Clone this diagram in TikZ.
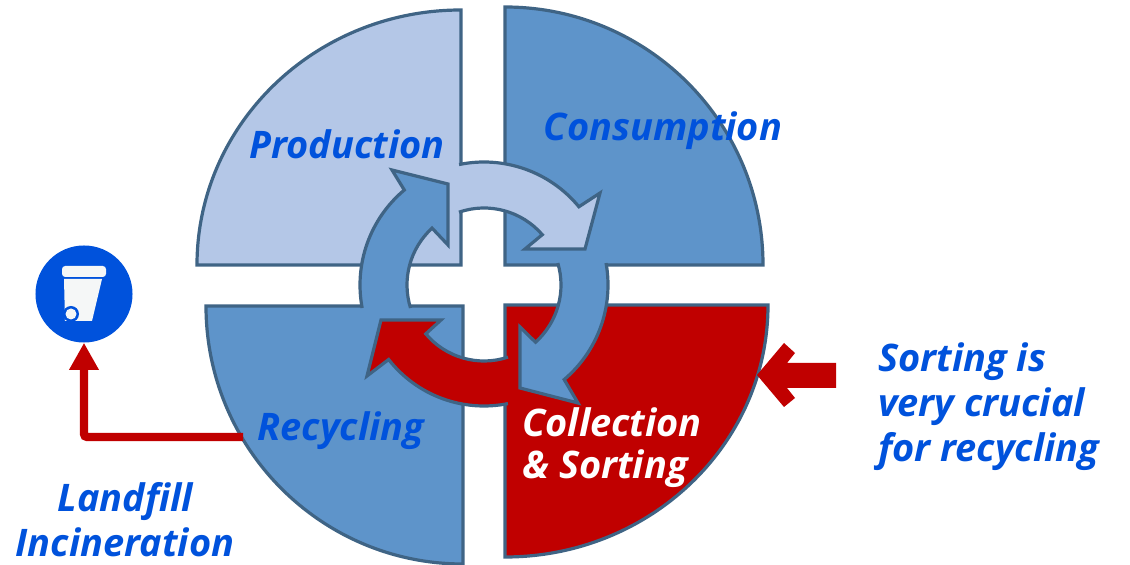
\documentclass[tikz,border=0pt]{standalone}
\usepackage{fontspec}
\setmainfont{Open Sans}
\usetikzlibrary{arrows.meta}
\definecolor{edgeblue}{HTML}{3F6485}
\definecolor{midblue}{HTML}{5E94CA}
\definecolor{paleblue}{HTML}{B4C7E7}
\definecolor{darkred}{HTML}{C00000}
\definecolor{textblue}{HTML}{0052DC}
\definecolor{binwhite}{HTML}{F5F7F7}
\tikzset{
  sector/.style={draw=edgeblue,line width=0.08cm,miter limit=20},
  label/.style={font=\fontsize{27}{32}\selectfont\bfseries\itshape,text=textblue,inner sep=0pt,align=left},
  redline/.style={draw=darkred,line width=0.21cm,rounded corners=0.08cm,
    -{Triangle[width=0.7cm,length=0.68cm]}}
}
\begin{document}
\begin{tikzpicture}[line cap=butt,line join=miter,x=0.025cm,y=0.025cm]
\useasboundingbox (0,0) rectangle (1130,565);
\draw[sector,fill=paleblue] (461,300)--(197,300) arc (180:90:264 and 255)--cycle;
\draw[sector,fill=midblue] (505,300)--(505,558) arc (90:0:258)--cycle;
\draw[sector,fill=midblue] (463,259)--(206,259) arc (180:270:257 and 258)--cycle;
\draw[sector,fill=darkred] (505,260)--(768,260) arc (0:-90:263 and 252)--cycle;
\begin{scope}[shift={(484,280)}]
\filldraw[sector,fill=paleblue] (101.7:123) arc (101.7:39.5:123)--(116,92)--(101,36)--(41,36)--(40.8:77) arc (40.8:109:77);
\filldraw[sector,fill=midblue] (10.2:124) arc (10.2:-49.7:124)--(94,-118)--(36,-103)--(36,-42)--(-48:77) arc (-48:16.6:77);
\filldraw[sector,fill=darkred] (281.4:121) arc (281.4:218:121)--(-117,-91)--(-103,-35)--(-43,-35)--(220:76) arc (220:288.4:76);
\filldraw[sector,fill=midblue] (190.7:124) arc (190.7:130:124)--(-92,115)--(-36,101)--(-36,40)--(132.4:77) arc (132.4:197.4:77);
\end{scope}
\node[circle,fill=textblue,minimum size=2.425cm,inner sep=0pt] (bin) at (84,271) {};
\begin{scope}[shift={(84,271)}]
\fill[binwhite,rounded corners=0.08cm] (-22,28)--(22,28)--(22,17)--(-22,17)--cycle;
\fill[binwhite] (-20,15)--(18,15)--(8,-27)--(-19,-27)--cycle;
\fill[textblue] (-13,-20) circle (8);
\fill[binwhite] (-13,-20) circle (5.5);
\end{scope}
\coordinate (recyclingedge) at (243,128);
\draw[redline] (recyclingedge)-|(bin.south);
\fill[darkred] (836,202)--(787,202)--(795,212)--(784,222)--(757,190)--(784,158)--(795,167)--(787,177)--(836,177)--cycle;
\node[label] (production) at (347,421) {Production};
\node[label] (consumption) at (663,434) {Consumption};
\node[label] (recycling) at (341,134) {Recycling};
\node[label,text=white,anchor=west] (collection) at (522,117) {Collection\\[-2pt]\& Sorting};
\node[label,align=center] (landfill) at (125,45) {Landfill\\Incineration};
\node[label,anchor=west] (sorting) at (878,158) {Sorting is\\very crucial\\for recycling};
\end{tikzpicture}
\end{document}
